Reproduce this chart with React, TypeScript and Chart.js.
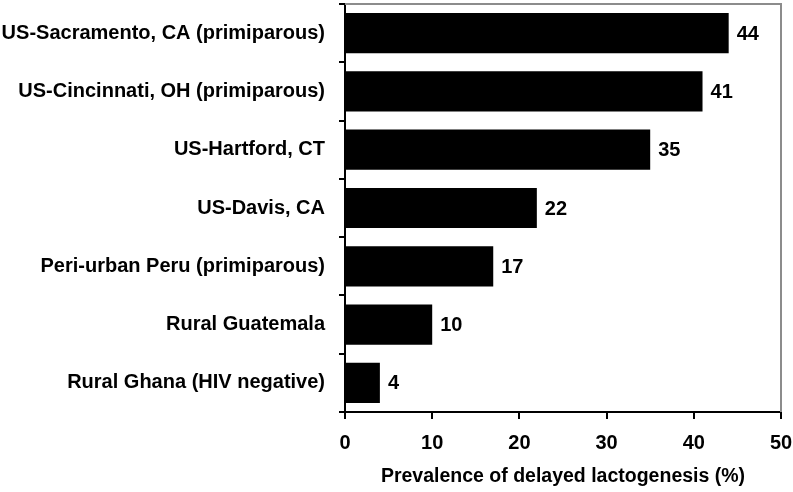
import React, { useEffect, useRef } from "react";
import { Chart, registerables, Plugin } from "chart.js";

Chart.register(...registerables);

const sites: string[] = [
  "US-Sacramento, CA (primiparous)",
  "US-Cincinnati, OH (primiparous)",
  "US-Hartford, CT",
  "US-Davis, CA",
  "Peri-urban Peru (primiparous)",
  "Rural Guatemala",
  "Rural Ghana (HIV negative)",
];
const prevalence: number[] = [44, 41, 35, 22, 17, 10, 4];
const axisTitle = "Prevalence of delayed lactogenesis (%)";

const FONT = "'Liberation Sans', Arial, sans-serif";
const SIZE = 20;

// value labels just past the end of each bar
const barValues: Plugin<"bar"> = {
  id: "barValues",
  afterDatasetsDraw(chart) {
    const { ctx } = chart;
    const meta = chart.getDatasetMeta(0);
    ctx.save();
    ctx.font = `bold ${SIZE}px ${FONT}`;
    ctx.fillStyle = "#000";
    ctx.textAlign = "left";
    ctx.textBaseline = "middle";
    meta.data.forEach((bar, i) => {
      ctx.fillText(String(prevalence[i]), bar.x + 8, bar.y + 1);
    });
    ctx.restore();
  },
};

// grey frame on top and right of the plot area
const frame: Plugin<"bar"> = {
  id: "frame",
  beforeDatasetsDraw(chart) {
    const { ctx, chartArea } = chart;
    ctx.save();
    ctx.strokeStyle = "#8c8c8c";
    ctx.lineWidth = 2;
    ctx.beginPath();
    ctx.moveTo(chartArea.left, chartArea.top);
    ctx.lineTo(chartArea.right, chartArea.top);
    ctx.lineTo(chartArea.right, chartArea.bottom);
    ctx.stroke();
    ctx.restore();
  },
};

const PrevalenceChart: React.FC = () => {
  const canvasRef = useRef<HTMLCanvasElement | null>(null);

  useEffect(() => {
    document.body.style.margin = "0";
    if (!canvasRef.current) return;
    const ctx = canvasRef.current.getContext("2d");
    if (!ctx) return;

    const chart = new Chart(ctx, {
      type: "bar",
      data: {
        labels: sites,
        datasets: [
          {
            data: prevalence,
            backgroundColor: "#000",
            categoryPercentage: 1,
            barPercentage: 0.69,
          },
        ],
      },
      options: {
        indexAxis: "y",
        animation: false,
        responsive: true,
        maintainAspectRatio: false,
        layout: { padding: { top: 4, right: 12, left: 0, bottom: 0 } },
        plugins: {
          legend: { display: false },
          tooltip: { enabled: false },
        },
        scales: {
          x: {
            min: 0,
            max: 50,
            ticks: {
              stepSize: 10,
              color: "#000",
              padding: 12,
              font: { family: FONT, size: SIZE, weight: "bold" },
            },
            grid: {
              drawOnChartArea: false,
              drawTicks: true,
              tickLength: 7,
              color: "#000",
              lineWidth: 2,
            },
            border: { display: true, color: "#000", width: 2 },
            title: {
              display: true,
              text: axisTitle,
              color: "#000",
              padding: { top: 4, bottom: 4 },
              font: { family: FONT, size: 19.5, weight: "bold" },
            },
            afterFit(scale) {
              scale.height = 80;
              scale.paddingLeft = 0;
              scale.paddingRight = 0;
            },
          },
          y: {
            ticks: {
              color: "#000",
              padding: 14,
              font: { family: FONT, size: SIZE, weight: "bold" },
            },
            grid: {
              offset: true,
              drawOnChartArea: false,
              drawTicks: true,
              tickLength: 6,
              color: "#000",
              lineWidth: 2,
            },
            border: { display: true, color: "#000", width: 2 },
            afterFit(scale) {
              scale.width = 345;
              scale.paddingTop = 0;
              scale.paddingBottom = 0;
            },
          },
        },
      },
      plugins: [frame, barValues],
    });

    return () => {
      chart.destroy();
    };
  }, []);

  return (
    <div style={{ position: "relative", width: 793, height: 492, background: "#fff" }}>
      <canvas ref={canvasRef}></canvas>
    </div>
  );
};

export default function App() {
  return <PrevalenceChart />;
}
